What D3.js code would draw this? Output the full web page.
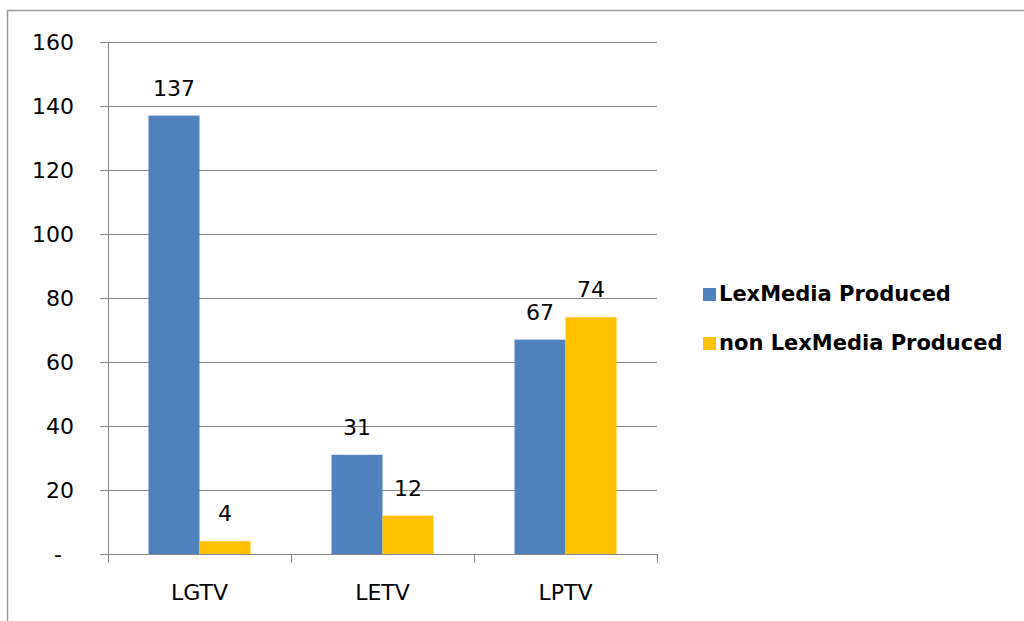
<!DOCTYPE html>
<html>
<head>
<meta charset="utf-8">
<script src="https://cdn.jsdelivr.net/npm/d3@7"></script>
<style>
  body { margin: 0; background: #fff; }
  svg { display: block; }
  text { font-family: "DejaVu Sans", sans-serif; fill: #000; }
</style>
</head>
<body>
<svg id="chart" width="1024" height="621"></svg>
<script>
// categories along the x axis
var categories = ["LGTV", "LETV", "LPTV"]
// series names (legend)
var seriesNames = ["LexMedia Produced", "non LexMedia Produced"]
// values per series, same order as categories
var lexProduced = [137, 31, 67]
var nonLexProduced = [4, 12, 74]
// y tick values
var yTicks = [0, 20, 40, 60, 80, 100, 120, 140, 160]
var colors = ["#4f81bd", "#ffc000"]

var svg = d3.select("#chart")

// outer chart border (right/bottom run off the picture)
svg.append("rect")
    .attr("x", 7.5).attr("y", 10.5)
    .attr("width", 1030).attr("height", 630)
    .attr("fill", "none")
    .attr("stroke", "#9a9a9a")
    .attr("stroke-width", 1.5)

var plotLeft = 108, plotRight = 657, plotTop = 42, plotBottom = 554

var x = d3.scaleBand().domain(categories).range([plotLeft, plotRight])
var xSub = d3.scaleBand().domain(seriesNames).range([0, x.bandwidth()])
    .paddingInner(0).paddingOuter(0.794)
var y = d3.scaleLinear().domain([0, 160]).range([plotBottom, plotTop])

// gridlines + y tick marks
svg.append("g").selectAll("line")
    .data(yTicks)
    .enter().append("line")
    .attr("x1", plotLeft - 8).attr("x2", plotRight)
    .attr("y1", function(d) { return Math.round(y(d)) + 0.5 })
    .attr("y2", function(d) { return Math.round(y(d)) + 0.5 })
    .attr("stroke", "#868686")
    .attr("stroke-width", 1)

// y tick labels
svg.append("g").selectAll("text")
    .data(yTicks)
    .enter().append("text")
    .attr("x", 74)
    .attr("dx", function(d) { return d == 0 ? -12 : 0 })
    .attr("y", function(d) { return y(d) })
    .attr("dy", "0.36em")
    .attr("text-anchor", "end")
    .style("font-size", "22px")
    .text(function(d) { return d == 0 ? "-" : d })

// bars
var rows = categories.map(function(c, i) {
    return {cat: c, values: [lexProduced[i], nonLexProduced[i]]}
})
var groups = svg.append("g").selectAll("g")
    .data(rows)
    .enter().append("g")
    .attr("transform", function(d) { return "translate(" + x(d.cat) + ",0)" })

groups.selectAll("rect")
    .data(function(d) { return d.values.map(function(v, j) { return {name: seriesNames[j], value: v, j: j} }) })
    .enter().append("rect")
    .attr("x", function(d) { return xSub(d.name) })
    .attr("y", function(d) { return y(d.value) })
    .attr("width", xSub.bandwidth())
    .attr("height", function(d) { return plotBottom - y(d.value) })
    .attr("fill", function(d) { return colors[d.j] })

// value labels
groups.selectAll("text")
    .data(function(d) { return d.values.map(function(v, j) { return {name: seriesNames[j], value: v} }) })
    .enter().append("text")
    .attr("x", function(d) { return xSub(d.name) + xSub.bandwidth() / 2 })
    .attr("y", function(d) { return y(d.value) - 20 })
    .attr("text-anchor", "middle")
    .style("font-size", "22px")
    .text(function(d) { return d.value })

// axes lines
svg.append("line")
    .attr("x1", plotLeft + 0.5).attr("x2", plotLeft + 0.5)
    .attr("y1", plotTop).attr("y2", plotBottom + 9)
    .attr("stroke", "#868686")
svg.append("line")
    .attr("x1", plotLeft).attr("x2", plotRight)
    .attr("y1", plotBottom + 0.5).attr("y2", plotBottom + 0.5)
    .attr("stroke", "#868686")

// x tick marks at category boundaries
var bounds = categories.map(function(c) { return x(c) }).concat([plotRight])
svg.append("g").selectAll("line")
    .data(bounds)
    .enter().append("line")
    .attr("x1", function(d) { return Math.round(d) + 0.5 })
    .attr("x2", function(d) { return Math.round(d) + 0.5 })
    .attr("y1", plotBottom).attr("y2", plotBottom + 9)
    .attr("stroke", "#868686")

// category labels
svg.append("g").selectAll("text")
    .data(categories)
    .enter().append("text")
    .attr("x", function(d) { return x(d) + x.bandwidth() / 2 })
    .attr("y", 600)
    .attr("text-anchor", "middle")
    .style("font-size", "22px")
    .text(function(d) { return d })

// legend
var legend = svg.append("g").selectAll("g")
    .data(seriesNames)
    .enter().append("g")
    .attr("transform", function(d, i) { return "translate(703," + (288 + i * 49) + ")" })
legend.append("rect")
    .attr("width", 13).attr("height", 13)
    .attr("fill", function(d, i) { return colors[i] })
legend.append("text")
    .attr("x", 16)
    .attr("y", 12.5)
    .style("font-size", "21px")
    .style("font-weight", "bold")
    .text(function(d) { return d })
</script>
</body>
</html>
